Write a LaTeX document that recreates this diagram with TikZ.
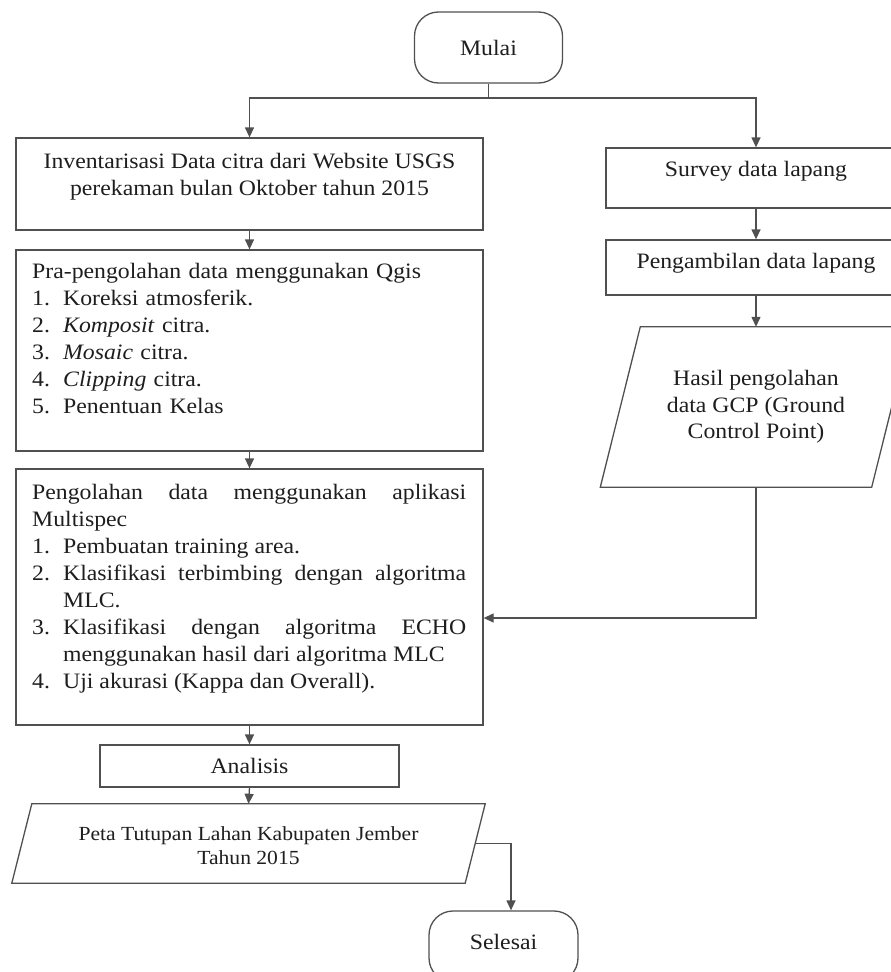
\documentclass[tikz,border=0pt]{standalone}
\usepackage{fontspec}
\setmainfont{Liberation Serif}[FakeStretch=1.08]
\usetikzlibrary{arrows.meta,calc}
\definecolor{lnc}{RGB}{80,80,80}
\definecolor{txc}{RGB}{30,30,30}
\newcommand{\itm}[2]{\par\noindent\hangindent=31pt\hangafter=1\makebox[31pt][l]{#1}#2}
\begin{document}
\begin{tikzpicture}[x=1pt,y=-1pt,
  every node/.style={font=\fontsize{22}{27}\selectfont, text=txc},
  box/.style={draw=lnc, line width=1.3pt, rectangle, inner sep=0pt},
  term/.style={draw=lnc, line width=1.3pt, rectangle, rounded corners=24pt, inner sep=0pt},
  ghost/.style={inner sep=0pt},
  txt/.style={inner sep=0pt, align=center},
  arr/.style={draw=lnc, line width=1.3pt, -{Triangle[length=10pt,width=9pt]}},
  plain/.style={draw=lnc, line width=1.3pt}]
\useasboundingbox (0,0) rectangle (891,972);
\fill[white] (0,0) rectangle (891,972);

% start
\node[term, minimum width=148pt, minimum height=71pt] (mulai) at (488.5,47.5) {Mulai};

% left column
\node[box, minimum width=467pt, minimum height=92pt] (inv) at (249.5,184) {};
\node[txt] (invt) at (249.5,177) {Inventarisasi Data citra dari Website USGS\\perekaman bulan Oktober tahun 2015};

\node[box, minimum width=467pt, minimum height=201pt] (pra) at (249.5,350.5) {};
\node[inner sep=0pt, text width=440pt, align=left, anchor=north west] (prat) at (32,263) {\noindent Pra-pengolahan data menggunakan Qgis
\itm{1.}{Koreksi atmosferik.}
\itm{2.}{\textit{Komposit} citra.}
\itm{3.}{\textit{Mosaic} citra.}
\itm{4.}{\textit{Clipping} citra.}
\itm{5.}{Penentuan Kelas}\par};

\node[box, minimum width=467pt, minimum height=256pt] (olah) at (249.5,597) {};
\node[inner sep=0pt, text width=434pt, align=justify, anchor=north west] (olaht) at (32,484) {\noindent Pengolahan data menggunakan aplikasi\linebreak Multispec
\itm{1.}{Pembuatan training area.}
\itm{2.}{Klasifikasi terbimbing dengan algoritma\linebreak MLC.}
\itm{3.}{Klasifikasi dengan algoritma ECHO\linebreak menggunakan hasil dari algoritma MLC}
\itm{4.}{Uji akurasi (Kappa dan Overall).}\par};

\node[box, minimum width=299pt, minimum height=42pt] (anl) at (249.5,766) {Analisis};

\node[ghost, minimum width=453pt, minimum height=79pt] (peta) at (248.5,843.5) {};
\draw[plain] ([xshift=10pt]peta.north west) -- ([xshift=10pt]peta.north east)
  -- ([xshift=-10pt]peta.south east) -- ([xshift=-10pt]peta.south west) -- cycle;
\node[txt, font=\fontsize{20}{24}\selectfont] (petat) at (248.5,846) {Peta Tutupan Lahan Kabupaten Jember\\Tahun 2015};

\node[term, minimum width=149pt, minimum height=71pt] (selesai) at (503.5,946.5) {};
\node[txt] (selesait) at (503.5,942) {Selesai};

% right column
\node[box, minimum width=300pt, minimum height=60pt] (survey) at (756,178) {};
\node[txt] (surveyt) at (756,171) {Survey data lapang};

\node[box, minimum width=300pt, minimum height=55pt] (ambil) at (756,267.5) {};
\node[txt] (ambilt) at (756,263) {Pengambilan data lapang};

\node[ghost, minimum width=271pt, minimum height=160pt, align=center, font=\fontsize{22}{26.5}\selectfont] (gcp) at (756,407) {Hasil pengolahan\\data GCP (Ground\\Control Point)};
\draw[plain] ([xshift=20pt]gcp.north west) -- ([xshift=20pt]gcp.north east)
  -- ([xshift=-20pt]gcp.south east) -- ([xshift=-20pt]gcp.south west) -- cycle;

% connectors
\coordinate (split) at (488.5,98);
\draw[plain] (mulai.south) -- (split);
\draw[arr] (split) -| (inv.north);
\draw[arr] (split) -| (survey.north);
\draw[arr] (inv.south) -- (pra.north);
\draw[arr] (pra.south) -- (olah.north);
\draw[arr] (olah.south) -- (anl.north);
\draw[arr] (anl.south) -- (peta.north);
\draw[arr] (survey.south) -- (ambil.north);
\draw[arr] (ambil.south) -- (gcp.north);
\coordinate (j) at (756,618);
\draw[arr] (gcp.south) -- (j) -- (j -| olah.east);
\coordinate (k) at (511,843.5);
\draw[arr] (peta.east) -- (k) -- (k |- selesai.north);
\end{tikzpicture}
\end{document}
